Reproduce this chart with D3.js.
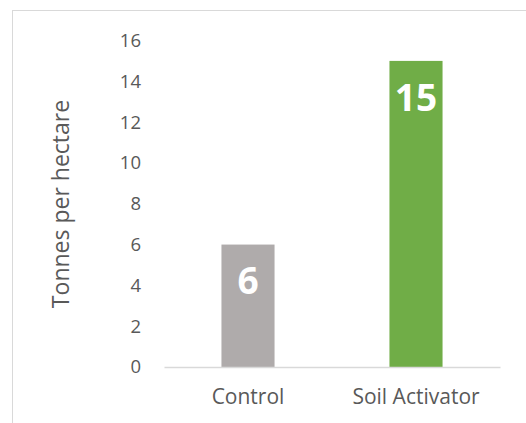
<!DOCTYPE html>
<html><head><meta charset="utf-8">
<script src="https://cdn.jsdelivr.net/npm/d3@7"></script>
<style>body{margin:0;background:#fff}svg{display:block}</style>
</head><body>
<script>
const categories = ["Control", "Soil Activator"];
const values = [6, 15];
const barColors = ["#AFABAB", "#70AD47"];
const yTicks = [0, 2, 4, 6, 8, 10, 12, 14, 16];
const yTitle = "Tonnes per hectare";

(function () {
const W = 526, H = 423;
const svg = d3.select("body").append("svg").attr("width", W).attr("height", H);
const font = "'Open Sans', sans-serif";

svg.append("rect").attr("x", 12.5).attr("y", 10.5).attr("width", 700).attr("height", 700)
  .attr("fill", "none").attr("stroke", "#D9D9D9").attr("stroke-width", 1);

const mLeft = 164, mRight = 500, mTop = 40.5, mBottom = 367;
const x = d3.scaleBand().domain(categories).range([mLeft, mRight]).paddingInner(0.684).paddingOuter(0.342);
const y = d3.scaleLinear().domain([0, 16]).range([mBottom, mTop]);

const yAxis = svg.append("g").attr("transform", `translate(${mLeft},0)`)
  .call(d3.axisLeft(y).tickValues(yTicks).tickSize(0).tickPadding(23));
yAxis.select(".domain").remove();
yAxis.selectAll("text").attr("font-family", font).attr("font-size", 18.5).attr("fill", "#595959");

svg.selectAll(".bar").data(values).enter().append("rect")
  .attr("x", (d, i) => x(categories[i]))
  .attr("y", d => y(d))
  .attr("width", x.bandwidth())
  .attr("height", d => y(0) - y(d))
  .attr("fill", (d, i) => barColors[i]);

const xAxis = svg.append("g").attr("transform", `translate(0,${mBottom})`)
  .call(d3.axisBottom(x).tickSize(0).tickPadding(22));
xAxis.select(".domain").attr("stroke", "#D9D9D9").attr("stroke-width", 1.3);
xAxis.selectAll("text").attr("font-family", font).attr("font-size", 21).attr("fill", "#595959");

svg.selectAll(".lbl").data(values).enter().append("text")
  .attr("x", (d, i) => x(categories[i]) + x.bandwidth() / 2)
  .attr("y", d => y(d) + 40)
  .attr("dominant-baseline", "middle")
  .attr("text-anchor", "middle")
  .attr("font-family", font).attr("font-weight", "bold").attr("font-size", 37)
  .attr("fill", "#FFFFFF")
  .text(d => d);

svg.append("text")
  .attr("transform", `translate(63,${(100 + 308) / 2}) rotate(-90)`)
  .attr("text-anchor", "middle").attr("dominant-baseline", "middle")
  .attr("font-family", font).attr("font-size", 23).attr("fill", "#595959")
  .text(yTitle);
})();
</script>
</body></html>
